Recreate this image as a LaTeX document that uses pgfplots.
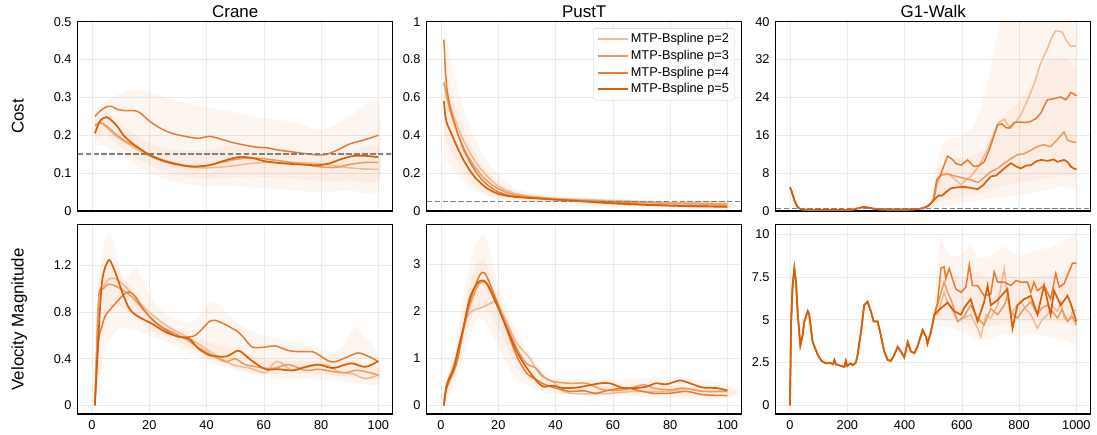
\documentclass[border=0pt]{standalone}
\usepackage{pgfplots}
\pgfplotsset{compat=1.18}
\usepackage{fontspec}
\setmainfont{Liberation Sans}
\definecolor{cA}{RGB}{241,186,146}
\definecolor{cB}{RGB}{236,153,98}
\definecolor{cC}{RGB}{228,124,54}
\definecolor{cD}{RGB}{216,95,6}
\definecolor{gridc}{RGB}{234,234,234}
\newcommand\ticksize{\fontsize{12.8}{15}\selectfont}
\newcommand\labsize{\fontsize{17}{20}\selectfont}
\pgfplotsset{
  base/.style={scale only axis, width=315bp, height=189.3bp,
    axis line style={line width=1.2bp, black},
    grid=major, major grid style={line width=0.6bp, color=gridc},
    major tick length=0pt,
    tick label style={font=\ticksize},
    /pgf/number format/assume math mode=true,
    /pgf/number format/1000 sep={},
    scaled ticks=false,
    yticklabel style={xshift=-2.7bp},
    xticklabel style={yshift=-3.4bp},
    title style={font=\labsize, at={(0.5,1)}, anchor=base, yshift=-2bp},
    ylabel style={font=\labsize, at={(axis description cs:0,0.5)}, anchor=base, yshift=54bp},
    clip=true},
  short/.style={base, xmin=-5, xmax=105, xtick={0,20,40,60,80,100}},
  long/.style={base, xmin=-50, xmax=1050, xtick={0,200,400,600,800,1000}},
  top/.style={xticklabels={}},
  band/.style={fill=cD, fill opacity=0.06, draw=none, forget plot},
  pA/.style={color=cA, line width=1.5bp},
  pB/.style={color=cB, line width=1.5bp},
  pC/.style={color=cC, line width=1.5bp},
  pD/.style={color=cD, line width=1.7bp},
  ref/.style={color=black!50, line width=1.5bp, dash pattern=on 5.5bp off 2.4bp, forget plot},
}
\begin{document}
\begin{tikzpicture}
\useasboundingbox (0,0) rectangle (1097bp,435bp);
%% ---------------- Crane cost
\begin{axis}[short, top, at={(77.7bp,224bp)}, anchor=south west, ymin=0, ymax=0.5,
  ytick={0,0.1,0.2,0.3,0.4,0.5}, title={Crane}, ylabel={Cost}]
\addplot[band, smooth] coordinates {(1,0.27)(5,0.29)(10,0.31)(17,0.32)(30,0.29)(40,0.275)(50,0.26)(60,0.245)(70,0.235)(80,0.215)(90,0.25)(100,0.287)
 (100,0.06)(90,0.055)(80,0.05)(70,0.055)(60,0.06)(50,0.065)(40,0.065)(30,0.075)(20,0.1)(10,0.15)(5,0.17)(1,0.175)};
\addplot[band, smooth] coordinates {(1,0.24)(5,0.26)(10,0.23)(20,0.18)(30,0.16)(40,0.16)(50,0.175)(60,0.17)(70,0.16)(80,0.15)(90,0.16)(100,0.17)
 (100,0.08)(90,0.08)(80,0.08)(70,0.085)(60,0.09)(50,0.09)(40,0.085)(30,0.095)(20,0.12)(10,0.17)(5,0.2)(1,0.19)};
\addplot[pA, smooth] coordinates {(1,0.228)(3,0.232)(5,0.222)(8,0.2)(11,0.185)(14,0.17)(17,0.157)(20,0.145)(24,0.133)(28,0.125)(32,0.119)(36,0.115)(40,0.114)(45,0.116)(50,0.12)(55,0.125)(60,0.128)(65,0.128)(70,0.128)(75,0.127)(80,0.124)(85,0.119)(90,0.114)(95,0.111)(100,0.11)};
\addplot[pB, smooth] coordinates {(1,0.225)(3,0.233)(5,0.225)(8,0.205)(11,0.188)(14,0.175)(17,0.162)(20,0.15)(24,0.137)(28,0.128)(32,0.121)(36,0.118)(40,0.12)(45,0.128)(50,0.136)(55,0.140)(60,0.138)(65,0.133)(70,0.128)(75,0.122)(79,0.117)(85,0.115)(90,0.123)(95,0.128)(100,0.128)};
\addplot[pC, smooth] coordinates {(1,0.25)(3,0.265)(5,0.275)(7,0.276)(9,0.268)(12,0.265)(15,0.265)(17,0.258)(20,0.238)(24,0.218)(28,0.205)(32,0.198)(37,0.192)(41,0.197)(45,0.19)(49,0.181)(54,0.173)(58,0.168)(61,0.167)(65,0.161)(69,0.157)(74,0.152)(79,0.148)(82,0.150)(86,0.162)(90,0.177)(96,0.19)(100,0.200)};
\addplot[pD, smooth] coordinates {(1,0.205)(2,0.225)(3,0.240)(5,0.248)(7,0.238)(9,0.222)(11,0.20)(14,0.179)(17,0.163)(20,0.148)(24,0.135)(28,0.126)(32,0.120)(36,0.117)(41,0.121)(45,0.130)(49,0.139)(52,0.143)(56,0.140)(60,0.132)(65,0.127)(70,0.124)(75,0.122)(79,0.121)(83,0.126)(87,0.137)(91,0.145)(95,0.146)(100,0.142)};
\addplot[ref] coordinates {(-5,0.15)(105,0.15)};
\end{axis}
%% ---------------- PustT cost
\begin{axis}[short, top, at={(426.7bp,224bp)}, anchor=south west, ymin=0, ymax=1,
  ytick={0,0.2,0.4,0.6,0.8,1}, title={PustT},
  legend style={at={(1,1)}, anchor=north east, xshift=-7bp, yshift=-6.5bp, font=\ticksize,
    draw=black!18, rounded corners=2bp, fill=white, fill opacity=0.85, text opacity=1,
    row sep=0bp, inner xsep=3.5bp, inner ysep=2.5bp,
    nodes={inner sep=2bp, text height=9.8bp, text depth=2.9bp}},
  legend cell align=left,
  legend image code/.code={\draw[#1, line width=1.8bp] (0bp,0bp) -- (30bp,0bp);}]
\addplot[band, smooth] coordinates {(1,1.0)(2,0.92)(3,0.83)(5,0.70)(7,0.58)(10,0.45)(13,0.35)(16,0.27)(20,0.19)(25,0.13)(30,0.10)(40,0.08)(50,0.07)(60,0.065)(80,0.055)(100,0.05)
 (100,0.005)(80,0.01)(60,0.015)(40,0.03)(30,0.04)(25,0.05)(20,0.06)(16,0.08)(13,0.1)(10,0.13)(7,0.17)(5,0.2)(3,0.24)(1,0.28)};
\addplot[band, smooth] coordinates {(1,0.8)(3,0.65)(5,0.55)(8,0.43)(10,0.36)(13,0.28)(16,0.21)(20,0.15)(25,0.11)(30,0.09)(40,0.072)(60,0.058)(100,0.042)
 (100,0.015)(60,0.03)(40,0.048)(30,0.055)(25,0.062)(20,0.072)(16,0.09)(13,0.115)(10,0.16)(8,0.2)(5,0.27)(3,0.33)(1,0.42)};
\addplot[pA] coordinates {(1,0.67)(2,0.62)(3,0.57)(4,0.52)(5,0.48)(6,0.44)(7,0.40)(8,0.37)(9,0.34)(10,0.31)(12,0.26)(14,0.22)(16,0.185)(18,0.155)(20,0.13)(23,0.107)(26,0.092)(30,0.08)(35,0.072)(40,0.066)(50,0.06)(60,0.055)(70,0.05)(80,0.045)(90,0.042)(100,0.04)};
\addlegendentry{MTP-Bspline p=2}
\addplot[pB] coordinates {(1,0.68)(2,0.60)(3,0.54)(4,0.49)(5,0.445)(6,0.40)(7,0.365)(8,0.33)(9,0.30)(10,0.275)(12,0.23)(14,0.19)(16,0.16)(18,0.135)(20,0.117)(23,0.097)(26,0.085)(30,0.076)(35,0.069)(40,0.063)(50,0.056)(60,0.05)(70,0.045)(80,0.04)(90,0.037)(100,0.035)};
\addlegendentry{MTP-Bspline p=3}
\addplot[pC] coordinates {(1,0.905)(1.5,0.75)(2,0.65)(3,0.56)(4,0.50)(5,0.45)(6,0.40)(7,0.36)(8,0.32)(9,0.29)(10,0.26)(12,0.21)(14,0.17)(16,0.14)(18,0.118)(20,0.10)(23,0.085)(26,0.077)(30,0.07)(35,0.065)(40,0.06)(50,0.052)(60,0.045)(70,0.036)(80,0.03)(90,0.027)(100,0.025)};
\addlegendentry{MTP-Bspline p=4}
\addplot[pD] coordinates {(1,0.58)(1.5,0.5)(2,0.465)(3,0.43)(4,0.395)(5,0.36)(6,0.325)(7,0.295)(8,0.265)(9,0.24)(10,0.215)(12,0.175)(14,0.145)(16,0.12)(18,0.103)(20,0.09)(23,0.08)(26,0.074)(30,0.07)(35,0.065)(40,0.06)(45,0.055)(50,0.05)(55,0.045)(60,0.04)(70,0.033)(80,0.028)(90,0.024)(100,0.022)};
\addlegendentry{MTP-Bspline p=5}
\addplot[ref] coordinates {(-5,0.05)(105,0.05)};
\end{axis}
%% ---------------- G1 cost
\begin{axis}[long, top, at={(775.7bp,224bp)}, anchor=south west, ymin=0, ymax=40,
  ytick={0,8,16,24,32,40}, title={G1-Walk}]
\addplot[band] coordinates {(0,5.3)(20,1.9)(40,0.5)(200,0.35)(255,1.1)(300,0.6)(450,0.6)(490,2)(500,3.5)(510,10)(530,14)(560,15.5)(600,15.5)(640,18)(670,22)(700,30)(720,36)(740,42)(1000,45)
 (1000,4.5)(950,5.2)(900,4.5)(850,3.8)(800,3.3)(750,3.0)(700,2.6)(650,2.2)(600,1.6)(550,1.0)(510,0.7)(490,0.3)(450,0.2)(300,0.2)(255,0.6)(200,0.05)(40,0.2)(20,1.3)(0,4.7)};
\addplot[band] coordinates {(500,3)(520,9)(560,11)(620,11.5)(680,13)(720,18)(760,21)(800,23)(850,27)(900,32)(950,33)(1000,30)
 (1000,7)(950,7.5)(900,7.0)(850,6.5)(800,6.0)(750,5.5)(700,4.5)(650,3.5)(600,3.0)(550,2.5)(520,2.0)(500,1.5)};
\addplot[pA] coordinates {(0,5.0)(5,4.3)(10,3.3)(15,2.3)(20,1.6)(25,1.0)(30,0.6)(40,0.35)(60,0.25)(100,0.2)(150,0.2)(200,0.2)(220,0.3)(240,0.6)(255,0.85)(270,0.75)(290,0.5)(310,0.35)(350,0.3)(400,0.3)(430,0.35)(450,0.45)(465,0.6)(480,1.0)(490,1.5)(500,2.2)
 (505,3.5)(515,6.0)(530,7.8)(550,8.0)(570,7.0)(585,6.2)(597,5.5)(610,6.3)(631,7.3)(660,9.5)(690,13)(710,16)(725,18.5)(748,19.4)(760,18.2)(771,17.5)(790,19.0)(806,20.3)(830,23.5)(850,26.5)(876,31.3)(900,34.5)(915,36.8)(928,38.1)(951,37.8)(965,36.0)(980,34.8)(1000,34.9)};
\addplot[pB] coordinates {(0,5.0)(5,4.3)(10,3.3)(15,2.3)(20,1.6)(25,1.0)(30,0.6)(40,0.35)(60,0.25)(100,0.2)(150,0.2)(200,0.2)(220,0.3)(240,0.6)(255,0.85)(270,0.75)(290,0.5)(310,0.35)(350,0.3)(400,0.3)(430,0.35)(450,0.45)(465,0.6)(480,1.0)(490,1.5)(500,2.2)
 (505,3.2)(515,6.9)(530,7.6)(550,7.8)(575,7.4)(608,6.9)(630,6.6)(655,6.0)(680,7.2)(701,8.3)(725,9.0)(748,10.1)(770,11.0)(794,11.9)(817,12.1)(840,12.8)(864,13.6)(885,14.0)(910,13.6)(935,15.2)(957,16.7)(969,15.0)(985,14.6)(1000,14.5)};
\addplot[pC] coordinates {(0,5.0)(5,4.3)(10,3.3)(15,2.3)(20,1.6)(25,1.0)(30,0.6)(40,0.35)(60,0.25)(100,0.2)(150,0.2)(200,0.2)(220,0.3)(240,0.6)(255,0.85)(270,0.75)(290,0.5)(310,0.35)(350,0.3)(400,0.3)(430,0.35)(450,0.45)(465,0.6)(480,1.0)(490,1.5)(500,2.2)
 (505,4.0)(512,6.5)(525,7.5)(540,10.0)(550,11.6)(565,11.0)(580,10.0)(597,9.7)(610,10.3)(620,10.8)(632,10.0)(643,9.4)(660,9.6)(678,10.4)(695,12.8)(710,15.5)(725,18.2)(740,18.4)(755,17.6)(765,17.5)(783,18.7)(800,18.8)(820,18.7)(841,18.9)(860,19.6)(876,20.7)(890,22.5)(899,23.5)(920,23.7)(945,24.1)(963,23.5)(972,24.2)(980,25)(990,24.8)(1000,24.3)};
\addplot[pD] coordinates {(0,5.0)(5,4.3)(10,3.3)(15,2.3)(20,1.6)(25,1.0)(30,0.6)(40,0.35)(60,0.25)(100,0.2)(150,0.2)(200,0.2)(220,0.3)(240,0.6)(255,0.85)(270,0.75)(290,0.5)(310,0.35)(350,0.3)(400,0.3)(430,0.35)(450,0.45)(465,0.6)(480,1.0)(490,1.5)(500,2.2)
 (510,2.8)(520,3.3)(530,3.2)(545,4.0)(562,4.8)(585,5.0)(608,5.1)(630,4.9)(655,4.6)(675,5.5)(701,7.3)(720,7.5)(748,9.0)(771,10.1)(790,9.4)(806,9.0)(825,9.6)(841,9.7)(860,10.5)(876,10.8)(900,10.6)(920,10.9)(934,10.4)(957,10.8)(970,10.3)(980,9.4)(990,9.0)(1000,8.8)};
\addplot[ref] coordinates {(-50,0.5)(1050,0.5)};
\end{axis}
%% ---------------- Crane velocity
\begin{axis}[short, at={(77.7bp,21bp)}, anchor=south west, ymin=-0.074, ymax=1.55,
  ytick={0,0.4,0.8,1.2}, ylabel={Velocity Magnitude}]
\addplot[band, smooth] coordinates {(1,0)(2,0.9)(3,1.2)(4.5,1.40)(6,1.48)(7.5,1.42)(9,1.25)(11,1.06)(13,1.12)(15,1.19)(17,1.1)(20,0.95)(25,0.8)(30,0.72)(35,0.72)(39,0.82)(42,0.89)(46,0.82)(50,0.72)(55,0.65)(60,0.6)(70,0.55)(80,0.48)(85,0.46)(88,0.52)(92,0.67)(95,0.6)(100,0.42)
 (100,0.18)(90,0.2)(80,0.22)(70,0.24)(60,0.25)(50,0.3)(40,0.38)(30,0.5)(20,0.6)(15,0.65)(10,0.66)(6,0.55)(4,0.4)(2.5,0.25)(1,0)};
\addplot[band, smooth] coordinates {(1,0)(2.3,0.85)(4,1.1)(6,1.2)(9,1.15)(14,1.0)(20,0.8)(30,0.66)(40,0.55)(50,0.48)(60,0.4)(70,0.38)(80,0.38)(90,0.38)(100,0.33)
 (100,0.22)(90,0.24)(80,0.27)(70,0.27)(60,0.27)(50,0.32)(40,0.42)(30,0.55)(20,0.65)(14,0.78)(9,0.85)(6,0.8)(4,0.65)(2.3,0.5)(1,0)};
\addplot[pA, smooth] coordinates {(1,0)(2.3,0.89)(4,1.02)(6.4,1.09)(9.3,1.07)(14,0.96)(18.6,0.83)(25.6,0.69)(31.4,0.61)(37,0.53)(42,0.45)(49,0.35)(55,0.32)(60.5,0.28)(63,0.35)(64.5,0.375)(66.4,0.36)(70,0.30)(75.7,0.33)(81.5,0.35)(86,0.29)(91,0.27)(95.5,0.23)(100,0.26)};
\addplot[pB, smooth] coordinates {(1,0)(2.3,0.92)(4,1.0)(5.8,1.04)(9.3,1.01)(14,0.93)(18.6,0.80)(23,0.69)(28,0.63)(32.6,0.57)(37,0.50)(42,0.43)(46.6,0.375)(50,0.40)(53.5,0.35)(60.5,0.32)(64,0.32)(68.7,0.35)(74.5,0.30)(79,0.31)(84,0.29)(88.5,0.28)(92,0.30)(95.5,0.29)(100,0.26)};
\addplot[pC, smooth] coordinates {(1,0)(2.3,0.55)(3.5,0.68)(4.7,0.77)(8,0.87)(12,0.97)(14,0.96)(15.5,0.92)(17.5,0.84)(21,0.74)(25.6,0.65)(30,0.59)(35,0.59)(37,0.62)(39,0.67)(41,0.72)(43,0.73)(46,0.70)(49,0.66)(51,0.63)(53,0.58)(56,0.50)(60.5,0.50)(64,0.51)(68.7,0.47)(73,0.46)(77,0.46)(80,0.42)(82.7,0.38)(85,0.375)(89.6,0.42)(93,0.45)(96.6,0.42)(100,0.375)};
\addplot[pD, smooth] coordinates {(1,0)(2,0.49)(3.5,1.06)(5.6,1.24)(7,1.21)(9.3,1.06)(11,0.94)(12.8,0.84)(14.5,0.79)(16.3,0.76)(18.5,0.73)(21,0.70)(25.6,0.63)(30,0.59)(34,0.57)(37,0.49)(41,0.43)(44,0.42)(47,0.42)(51,0.47)(53,0.44)(56,0.38)(60.5,0.31)(65,0.31)(70,0.30)(74.5,0.33)(79,0.35)(84,0.32)(88.5,0.35)(91,0.36)(95.5,0.33)(100,0.38)};
\end{axis}
%% ---------------- PustT velocity
\begin{axis}[short, at={(426.7bp,21bp)}, anchor=south west, ymin=-0.18, ymax=3.83,
  ytick={0,1,2,3}]
\addplot[band, smooth] coordinates {(1,0)(3,0.8)(5,1.3)(8,2.4)(11,3.2)(13,3.5)(14.5,3.6)(16,3.5)(18,3.0)(20,2.6)(22,2.2)(26,1.6)(30,1.2)(35,0.75)(40,0.6)(60,0.55)(80,0.6)(100,0.45)
 (100,0.15)(60,0.2)(40,0.25)(35,0.3)(30,0.45)(26,0.6)(22,1.0)(18,1.5)(14,1.85)(12,1.75)(8,1.1)(5,0.5)(1,0)};
\addplot[band, smooth] coordinates {(1,0)(5,1.1)(8,2.0)(11,2.8)(14,3.1)(16,3.0)(18,2.6)(22,1.9)(26,1.35)(30,0.95)(35,0.6)(40,0.5)(60,0.45)(100,0.38)
 (100,0.2)(60,0.25)(40,0.35)(35,0.38)(30,0.6)(26,0.85)(22,1.35)(18,1.85)(14,2.15)(11,1.9)(8,1.4)(5,0.7)(1,0)};
\addplot[pA, smooth] coordinates {(1,0)(2,0.44)(5.6,1.07)(9,1.85)(11.4,2.02)(13.7,2.06)(17.2,2.16)(19.5,2.18)(23,1.77)(26.5,1.32)(31,1.0)(34.6,0.65)(39,0.51)(42.7,0.30)(47.4,0.25)(56.7,0.25)(68,0.30)(80,0.30)(85.7,0.35)(91.5,0.30)(100,0.30)};
\addplot[pB, smooth] coordinates {(1,0)(2,0.4)(5,0.85)(9,1.9)(12.5,2.5)(14.5,2.62)(16.5,2.55)(19.5,2.15)(23,1.7)(26.5,1.2)(30,0.88)(33,0.8)(36,0.6)(39,0.51)(45,0.47)(51,0.47)(56.7,0.33)(63.6,0.33)(70.6,0.44)(74,0.37)(80,0.33)(84.5,0.37)(91.5,0.30)(100,0.30)};
\addplot[pC, smooth] coordinates {(1,0)(2,0.37)(5.6,0.93)(9,1.98)(12.5,2.62)(14.3,2.82)(16,2.73)(19.5,2.2)(23,1.6)(26.5,1.04)(30,0.68)(33.5,0.54)(36,0.45)(40,0.37)(45,0.30)(50,0.31)(54,0.26)(59,0.33)(65,0.37)(68,0.33)(74,0.26)(80,0.26)(85.7,0.30)(91.5,0.23)(100,0.21)};
\addplot[pD, smooth] coordinates {(1,0)(2,0.44)(4.4,0.79)(6,1.2)(8,1.7)(10,2.27)(12.5,2.58)(14.3,2.65)(16,2.58)(19.5,2.13)(23,1.63)(26.5,1.14)(30,0.79)(33.5,0.51)(35.8,0.40)(39,0.42)(42.7,0.37)(47.4,0.38)(51,0.42)(55.5,0.47)(59,0.47)(63.6,0.37)(68,0.37)(71.8,0.40)(75,0.47)(78.7,0.45)(83.4,0.53)(86.9,0.47)(91.5,0.38)(96,0.37)(100,0.32)};
\end{axis}
%% ---------------- G1 velocity
\begin{axis}[long, at={(775.7bp,21bp)}, anchor=south west, ymin=-0.5, ymax=10.55,
  ytick={0,2.5,5,7.5,10}]
\addplot[band] coordinates {(504,6)(515,8.5)(525,9.8)(540,9.2)(560,8.6)(600,8.8)(630,9.4)(660,8.6)(700,8.7)(750,9.3)(800,8.7)(850,9.0)(900,9.2)(950,9.5)(1000,10.0)
 (1000,3.5)(960,3.8)(900,4.0)(850,4.2)(800,4.0)(750,4.2)(700,3.9)(660,3.8)(600,4.3)(550,4.6)(515,4.6)(504,4.7)};
\addplot[band] coordinates {(504,5.6)(530,8.0)(600,7.5)(650,7.8)(700,7.4)(750,7.8)(800,7.4)(850,7.5)(900,7.6)(950,7.8)(1000,8.3)
 (1000,4.6)(950,4.8)(900,4.9)(850,4.9)(800,4.9)(750,4.8)(700,4.6)(650,4.5)(600,4.8)(550,5.0)(504,5.0)};
\addplot[pA] coordinates {(0,0)(3.5,4.7)(9,7.0)(15,8.0)(21,7.2)(27,5.3)(36,3.5)(44,4.1)(50,4.9)(62,5.5)(67,5.3)(79,3.7)(97,2.95)(110,2.6)(120,2.5)(130,2.45)(140,2.5)(150,2.4)(155,2.65)(160,2.4)(170,2.35)(180,2.3)(190,2.25)(195,2.6)(200,2.3)(210,2.45)(220,2.35)(230,2.5)(236,2.95)(248,4.3)(259,5.85)(271,6.05)(283,5.45)(292,4.9)(306,4.9)(317,4.1)(329,3.15)(341,2.65)(352,2.6)(364,2.95)(376,3.43)(387,3.15)(399,2.8)(411,3.7)(422,3.15)(434,3.05)(445,3.43)(463,4.4)(475,4.0)(480,3.6)(492,4.3)(504,5.3)
 (515,5.3)(538,6.6)(550,6.0)(562,5.7)(585,4.9)(608,5.1)(631,5.3)(655,4.5)(666,4.0)(684,5.3)(701,5.1)(725,5.85)(735,6.8)(748,8.0)(760,6.2)(771,5.3)(790,5.8)(806,6.05)(825,5.6)(841,5.3)(864,4.5)(880,5.0)(899,5.3)(915,5.8)(934,5.5)(945,6.1)(957,5.1)(975,5.0)(990,5.6)(1000,5.5)};
\addplot[pB] coordinates {(0,0)(3.5,4.7)(9,7.0)(15,8.0)(21,7.2)(27,5.3)(36,3.5)(44,4.1)(50,4.9)(62,5.5)(67,5.3)(79,3.7)(97,2.95)(110,2.6)(120,2.5)(130,2.45)(140,2.5)(150,2.4)(155,2.65)(160,2.4)(170,2.35)(180,2.3)(190,2.25)(195,2.6)(200,2.3)(210,2.45)(220,2.35)(230,2.5)(236,2.95)(248,4.3)(259,5.85)(271,6.05)(283,5.45)(292,4.9)(306,4.9)(317,4.1)(329,3.15)(341,2.65)(352,2.6)(364,2.95)(376,3.43)(387,3.15)(399,2.8)(411,3.7)(422,3.15)(434,3.05)(445,3.43)(463,4.4)(475,4.0)(480,3.6)(492,4.3)(504,5.3)
 (515,5.85)(538,7.2)(550,6.6)(562,6.2)(585,4.9)(608,5.2)(631,5.85)(645,5.4)(655,5.1)(678,4.7)(701,5.65)(725,5.3)(748,5.85)(760,6.4)(771,5.45)(794,5.1)(817,5.65)(841,6.05)(864,5.3)(880,5.7)(899,5.85)(915,5.5)(934,5.1)(950,5.6)(969,4.9)(985,5.2)(1000,4.7)};
\addplot[pC] coordinates {(0,0)(3.5,4.7)(9,7.0)(15,8.0)(21,7.2)(27,5.3)(36,3.5)(44,4.1)(50,4.9)(62,5.5)(67,5.3)(79,3.7)(97,2.95)(110,2.6)(120,2.5)(130,2.45)(140,2.5)(150,2.4)(155,2.65)(160,2.4)(170,2.35)(180,2.3)(190,2.25)(195,2.6)(200,2.3)(210,2.45)(220,2.35)(230,2.5)(236,2.95)(248,4.3)(259,5.85)(271,6.05)(283,5.45)(292,4.9)(306,4.9)(317,4.1)(329,3.15)(341,2.65)(352,2.6)(364,2.95)(376,3.43)(387,3.15)(399,2.8)(411,3.7)(422,3.15)(434,3.05)(445,3.43)(463,4.4)(475,4.0)(480,3.6)(492,4.3)(504,5.3)
 (515,6.0)(527,8.0)(538,8.1)(544,7.4)(556,8.0)(567,7.4)(579,6.8)(597,6.6)(614,6.9)(626,8.2)(637,7.0)(655,7.0)(678,6.4)(701,6.5)(713,7.8)(725,7.2)(748,7.2)(771,7.0)(789,7.3)(806,7.2)(829,7.2)(841,6.6)(852,7.2)(864,6.7)(887,7.0)(910,6.2)(928,7.7)(940,6.9)(957,7.1)(969,7.6)(986,8.3)(1000,8.3)};
\addplot[pD] coordinates {(0,0)(3.5,4.7)(9,7.0)(15,8.0)(21,7.2)(27,5.3)(36,3.5)(44,4.1)(50,4.9)(62,5.5)(67,5.3)(79,3.7)(97,2.95)(110,2.6)(120,2.5)(130,2.45)(140,2.5)(150,2.4)(155,2.65)(160,2.4)(170,2.35)(180,2.3)(190,2.25)(195,2.6)(200,2.3)(210,2.45)(220,2.35)(230,2.5)(236,2.95)(248,4.3)(259,5.85)(271,6.05)(283,5.45)(292,4.9)(306,4.9)(317,4.1)(329,3.15)(341,2.65)(352,2.6)(364,2.95)(376,3.43)(387,3.15)(399,2.8)(411,3.7)(422,3.15)(434,3.05)(445,3.43)(463,4.4)(475,4.0)(480,3.6)(492,4.3)(504,5.3)
 (515,5.5)(550,6.0)(573,5.5)(597,5.3)(608,5.7)(631,6.2)(655,4.9)(678,6.05)(690,7.0)(701,5.85)(725,6.15)(759,6.8)(777,4.5)(794,5.85)(817,6.2)(841,6.4)(864,5.3)(887,7.0)(910,5.3)(922,6.7)(945,5.85)(969,6.4)(980,5.95)(1000,4.9)};
\end{axis}
\end{tikzpicture}
\end{document}
